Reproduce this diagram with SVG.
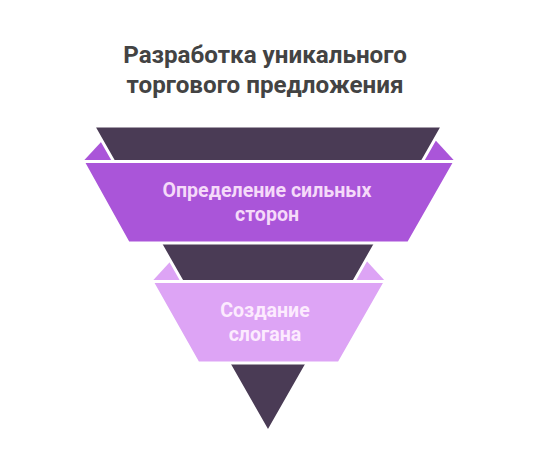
<svg xmlns="http://www.w3.org/2000/svg" width="533" height="449" viewBox="0 0 533 449">
  <style>
    .title { font-family: Roboto, "Liberation Sans", sans-serif; font-weight: bold; font-size: 24.2px; fill: #434343; text-anchor: middle; }
    .lbl { font-family: Roboto, "Liberation Sans", sans-serif; font-weight: bold; font-size: 19.6px; text-anchor: middle; }
    .dark { fill: #4A3B55; stroke: #FFFFFF; stroke-width: 3; stroke-linejoin: miter; }
    .b1 { fill: #AA55D9; }
    .b2 { fill: #DDA4F5; }
    .band { stroke: #FFFFFF; stroke-width: 3; }
  </style>
  <rect width="533" height="449" fill="#FFFFFF"/>
  <g id="title">
    <text class="title" x="265" y="63">Разработка уникального</text>
    <text class="title" x="265" y="93">торгового предложения</text>
  </g>
  <g id="connectors">
    <polygon class="b1" points="83,161.5 102,140.9 125,161.5"/>
    <polygon class="b1" points="455,161.5 434.8,139.5 412,161.5"/>
    <polygon class="b2" points="152,281.5 170.6,261.2 190,281.5"/>
    <polygon class="b2" points="385.5,281.5 366,260.2 346,281.5"/>
  </g>
  <g id="funnel">
    <polygon class="dark" points="93.5,126 442.5,126 268,432"/>
  </g>
  <g id="node1">
    <polygon class="b1 band" points="83,161.5 455,161.5 408.5,243 128.3,243"/>
    <text class="lbl" fill="#F5DAF9" x="267" y="197">Определение сильных</text>
    <text class="lbl" fill="#F5DAF9" x="267" y="221">сторон</text>
  </g>
  <g id="node2">
    <polygon class="b2 band" points="152,281.5 385.5,281.5 339,363 198,363"/>
    <text class="lbl" fill="#FCEBFE" x="265" y="317">Создание</text>
    <text class="lbl" fill="#FCEBFE" x="265" y="341">слогана</text>
  </g>
</svg>
